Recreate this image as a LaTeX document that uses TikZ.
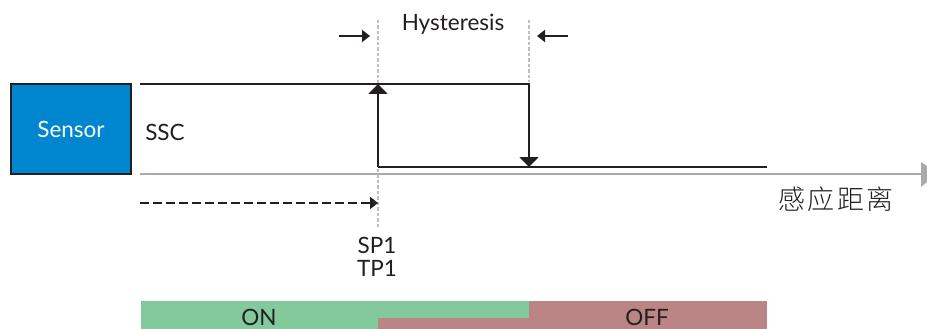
\documentclass[tikz,border=0pt]{standalone}
\usepackage{fontspec}
\setmainfont{Lato}
\newfontfamily\cjk{Noto Sans CJK SC}[UprightFont=* Light,LetterSpace=8]
\usetikzlibrary{arrows.meta}
\definecolor{ink}{HTML}{231F20}
\definecolor{axisgray}{HTML}{A9ABAA}
\definecolor{guidegray}{HTML}{BDBFBF}
\definecolor{sensorblue}{HTML}{0085CF}
\definecolor{ongreen}{HTML}{82CA9C}
\definecolor{offred}{HTML}{BC8585}
\tikzset{
  x=1pt,y=-1pt,
  wire/.style={draw=ink,line width=1.9pt},
  head/.style={-{Triangle[length=10pt,width=19pt]}},
  smallhead/.style={-{Triangle[length=8pt,width=12pt]}},
  guide/.style={draw=guidegray,line width=1.3pt,dash pattern=on 3.5pt off 2pt},
  label/.style={inner sep=0pt,text=ink,font=\fontsize{22.5}{24}\selectfont}
}
\begin{document}
\begin{tikzpicture}
\useasboundingbox (0,0) rectangle (927,329);
% output bars
\fill[ongreen] (141,301) rectangle (529,329);
\fill[offred] (378,318) rectangle (529,329);
\fill[offred] (529,301) rectangle (767,329);
\node[label] (on) at (259,317.5) {ON};
\node[label] (off) at (647,317.5) {OFF};
% sensor
\node[draw=ink,line width=2pt,fill=sensorblue,minimum width=120pt,minimum height=89pt,inner sep=0pt,
      text=white,font=\fontsize{22.5}{24}\selectfont] (sensor) at (71,129) {Sensor};
\node[label] (ssc) at (165,132) {SSC};
% named points
\coordinate (topL) at (140,84);
\coordinate (topA) at (378,84);
\coordinate (topB) at (529,84);
\coordinate (lowA) at (378,167);
\coordinate (lowB) at (529,167);
\coordinate (lowR) at (767,167);
\coordinate (axL) at (140,174);
\coordinate (axR) at (922,174);
\coordinate (dashL) at (140,203);
\coordinate (dashR) at (378,203);
\coordinate (gA1) at (378,20);
\coordinate (gA2) at (378,228);
\coordinate (gB1) at (529,20);
\coordinate (gB2) at (529,82);
\coordinate (hA1) at (339,36);
\coordinate (hA2) at (370,36);
\coordinate (hB1) at (568,36);
\coordinate (hB2) at (537,36);
% axis
\draw[draw=axisgray,line width=2pt] (axL) -- (axR);
\fill[axisgray] (921,162) -- (927,166) -- (927,182) -- (921,187) -- cycle;
% guides
\draw[guide] (gA1) -- (gA2);
\draw[guide] (gB1) -- (gB2);
% signal
\draw[wire] (topL) -- (topB) -- (lowB);
\draw[wire] (lowA) -- (lowR);
\draw[wire,head] (lowA) -- (topA);
\draw[wire,head] (topB) -- (lowB);
\draw[wire,smallhead,dash pattern=on 8.5pt off 4.5pt] (dashL) -- (dashR);
\draw[wire,smallhead] (hA1) -- (hA2);
\draw[wire,smallhead] (hB1) -- (hB2);
% labels
\node[label] (hyst) at (453,24) {Hysteresis};
\node[label] (sp) at (377,245) {SP1};
\node[label] (tp) at (377,268) {TP1};
\node[inner sep=0pt,text=ink,font=\cjk\fontsize{27}{29}\selectfont] (dist) at (836,199) {感应距离};
\end{tikzpicture}
\end{document}
